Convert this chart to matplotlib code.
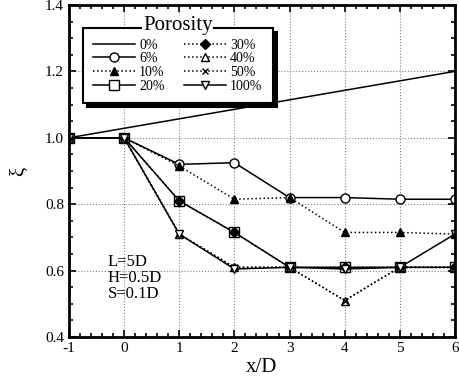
import matplotlib
matplotlib.use("Agg")
import matplotlib.pyplot as plt
from matplotlib.ticker import MultipleLocator

plt.rcParams['font.family'] = ['Liberation Serif', 'DejaVu Serif']
plt.rcParams['mathtext.fontset'] = 'stix'

x = [-1, 0, 1, 2, 3, 4, 5, 6]
labels = ['0%', '6%', '10%', '20%', '30%', '40%', '50%', '100%']
p0 = [1.0, 1.0286, 1.0571, 1.0857, 1.1143, 1.1429, 1.1714, 1.2]
p6 = [1.0, 1.0, 0.92, 0.925, 0.82, 0.82, 0.815, 0.815]
p10 = [1.0, 1.0, 0.915, 0.815, 0.82, 0.715, 0.715, 0.71]
p20 = [1.0, 1.0, 0.81, 0.715, 0.61, 0.61, 0.61, 0.61]
p30 = [1.0, 1.0, 0.81, 0.715, 0.61, 0.61, 0.61, 0.61]
p40 = [1.0, 1.0, 0.71, 0.61, 0.61, 0.51, 0.61, 0.61]
p50 = [1.0, 1.0, 0.71, 0.61, 0.61, 0.51, 0.61, 0.61]
p100 = [1.0, 1.0, 0.71, 0.605, 0.61, 0.605, 0.61, 0.71]
xticklabels = ['-1', '0', '1', '2', '3', '4', '5', '6']

fig = plt.figure(figsize=(4.6, 3.8), dpi=100)
ax = fig.add_axes([0.15, 0.113, 0.839, 0.874])

ms = 6.5
kw = dict(color='black', lw=1.1)
ax.plot(x, p0, '-', label=labels[0], **kw)
ax.plot(x, p6, '-', marker='o', mfc='white', mec='black', ms=ms, label=labels[1], **kw)
ax.plot(x, p10, ':', marker='^', mfc='black', mec='black', ms=ms - 1, label=labels[2], **kw)
ax.plot(x, p20, '-', marker='s', mfc='white', mec='black', ms=ms, label=labels[3], **kw)
ax.plot(x, p30, ':', marker='D', mfc='black', mec='black', ms=ms - 1.5, label=labels[4], **kw)
ax.plot(x, p40, ':', marker='^', mfc='white', mec='black', ms=ms - 1, label=labels[5], **kw)
ax.plot(x, p50, ':', marker='x', mfc='black', mec='black', ms=ms - 1.5, label=labels[6], **kw)
ax.plot(x, p100, '-', marker='v', mfc='white', mec='black', ms=ms - 1, label=labels[7], **kw)

ax.set_xlim(-1, 6)
ax.set_ylim(0.4, 1.4)
ax.xaxis.set_major_locator(MultipleLocator(1))
ax.xaxis.set_minor_locator(MultipleLocator(0.2))
ax.yaxis.set_major_locator(MultipleLocator(0.2))
ax.yaxis.set_minor_locator(MultipleLocator(0.05))
ax.set_xticks(x)
ax.set_xticklabels(xticklabels)
ax.set_yticks(ax.get_yticks())
ax.set_yticklabels([f'{v:.1f}' for v in ax.get_yticks()])
ax.set_ylim(0.4, 1.4)
ax.tick_params(which='both', direction='in', top=True, right=True, labelsize=11, width=1.2)
ax.tick_params(which='major', length=5)
ax.tick_params(which='minor', length=3)
for s in ax.spines.values():
    s.set_linewidth(2.0)
ax.grid(True, which='major', linestyle=':', color='gray', lw=0.8)
ax.set_axisbelow(True)

ax.set_xlabel('x/D', fontsize=15, labelpad=2)
ax.set_ylabel('ξ', fontsize=15, labelpad=12)

ax.text(-0.3, 0.65, 'L=5D\nH=0.5D\nS=0.1D', fontsize=12, va='top', ha='left', linespacing=1.0)

leg = ax.legend(ncol=2, loc='upper left', bbox_to_anchor=(0.036, 0.93),
                fontsize=10, frameon=True, fancybox=False, edgecolor='black',
                shadow={'color': 'black', 'alpha': 1, 'ox': 3, 'oy': -3},
                handlelength=3.0, handletextpad=0.3, columnspacing=1.4,
                labelspacing=0.05, borderpad=0.75, framealpha=1,
                borderaxespad=0)
leg.get_frame().set_linewidth(1.5)

fig.canvas.draw()
bb = leg.get_window_extent().transformed(ax.transAxes.inverted())
ax.text((bb.x0 + bb.x1) / 2, bb.y1 - 0.006, 'Porosity', transform=ax.transAxes, fontsize=15,
        ha='center', va='baseline', zorder=10,
        bbox=dict(facecolor='white', edgecolor='none', pad=0.5))

fig.savefig('out.png', dpi=100)
